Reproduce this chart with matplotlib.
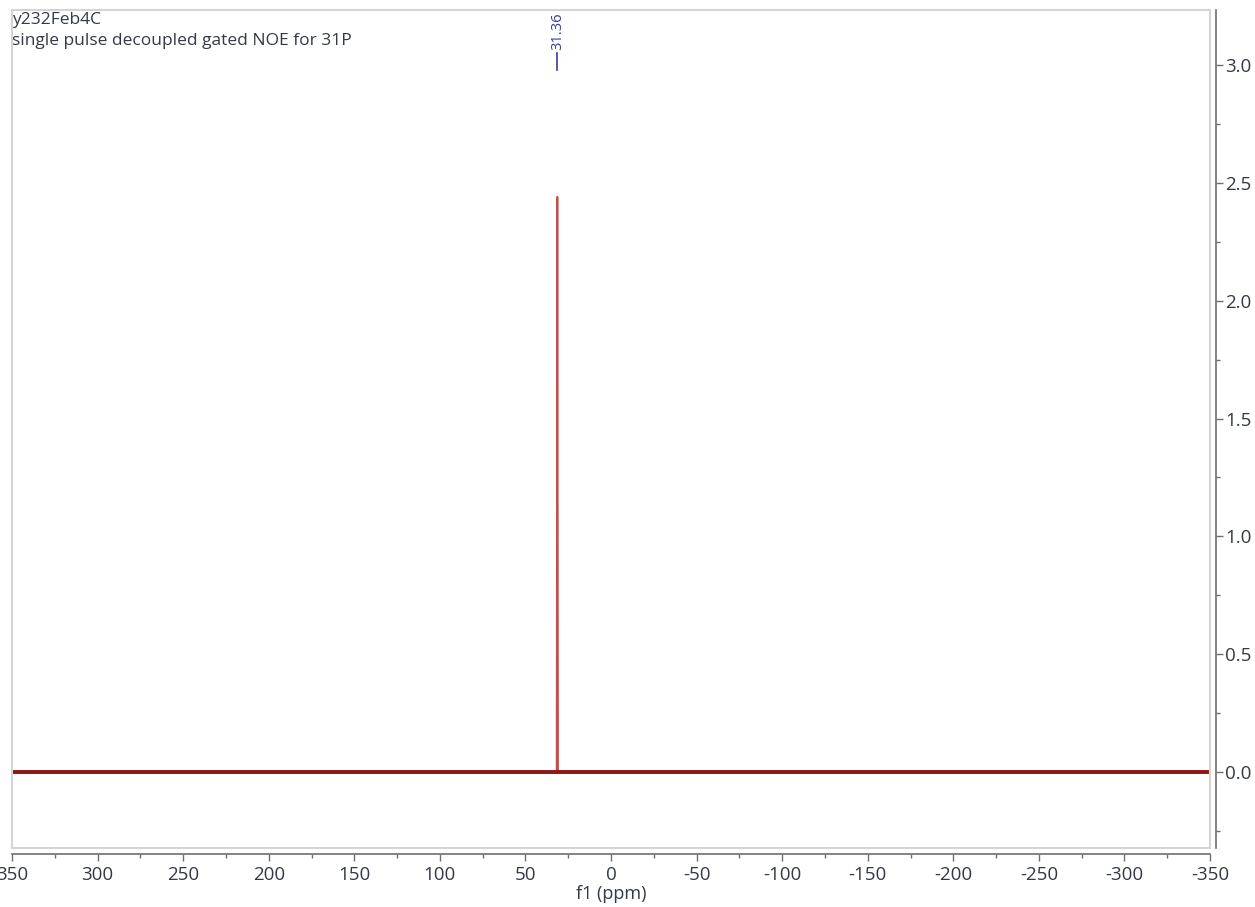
import matplotlib
matplotlib.use("Agg")
import matplotlib.pyplot as plt
from matplotlib.patches import Rectangle
from matplotlib.ticker import MultipleLocator

# 31P spectrum: flat baseline with a single line
ppm = [350, 31.7, 31.36, 31.0, -350]
intensity = [0.0, 0.0, 2.44, 0.0, 0.0]

peak_label = "31.36"
title_lines = ["y232Feb4C", "single pulse decoupled gated NOE for 31P"]

xticks = [350, 300, 250, 200, 150, 100, 50, 0, -50, -100, -150, -200, -250, -300, -350]
yticks = [0.0, 0.5, 1.0, 1.5, 2.0, 2.5, 3.0]

txt = "#333a44"
axis_col = "#6e6e6e"
plt.rcParams['font.family'] = ['Open Sans', 'DejaVu Sans']

fig = plt.figure(figsize=(12.55, 9.07), dpi=100)
ax = fig.add_axes([12 / 1255, 1 - 848 / 907, (1210 - 12) / 1255, (848 - 10) / 907])

# thin trace for the whole spectrum, thicker band along the baseline for the noise
ax.plot(ppm, intensity, color="#c0504d", lw=1.4, zorder=2)
ax.plot(ppm[:2], intensity[:2], color="#8e1616", lw=2.8, zorder=3)
ax.plot(ppm[3:], intensity[3:], color="#8e1616", lw=2.8, zorder=3)

ax.set_xlim(350, -350)
ax.set_ylim(-0.322, 3.233)

# light frame around the plot area
ax.add_patch(Rectangle((0, 0), 1, 1, transform=ax.transAxes, fill=False,
                       edgecolor="#d4d4d4", lw=1.5, zorder=5, clip_on=False))

for s in ["left", "top"]:
    ax.spines[s].set_visible(False)
for s in ["bottom", "right"]:
    ax.spines[s].set_position(("outward", 4))
    ax.spines[s].set_color(axis_col)
    ax.spines[s].set_linewidth(1.2)

ax.yaxis.tick_right()
ax.set_xticks(xticks)
ax.set_xticklabels([str(t) for t in xticks])
ax.set_yticks(yticks)
ax.set_yticklabels([f"{t:.1f}" for t in yticks])
ax.xaxis.set_minor_locator(MultipleLocator(25))
ax.yaxis.set_minor_locator(MultipleLocator(0.25))
ax.tick_params(axis="both", which="major", length=5, width=1, color=axis_col,
               labelsize=13.5, labelcolor=txt)
ax.tick_params(axis="x", which="major", pad=4)
ax.tick_params(axis="y", which="major", pad=2)
ax.tick_params(axis="both", which="minor", length=3, width=1, color=axis_col)
ax.set_xlabel("f1 (ppm)", fontsize=13, color=txt, labelpad=1)

# header text
ax.text(0.0, 0.998, title_lines[0], transform=ax.transAxes, fontsize=12.5,
        color=txt, va="top", ha="left")
ax.text(0.0, 0.972, title_lines[1], transform=ax.transAxes, fontsize=12.5,
        color=txt, va="top", ha="left")

# peak pick label with its marker line
lab_col = "#3a3a9c"
ax.plot([31.36, 31.36], [2.98, 3.05], color=lab_col, lw=1.2, clip_on=False)
ax.text(31.36, 3.065, peak_label, rotation=90, fontsize=10.5, color=lab_col,
        ha="center", va="bottom")

fig.savefig("out.png", dpi=100)
